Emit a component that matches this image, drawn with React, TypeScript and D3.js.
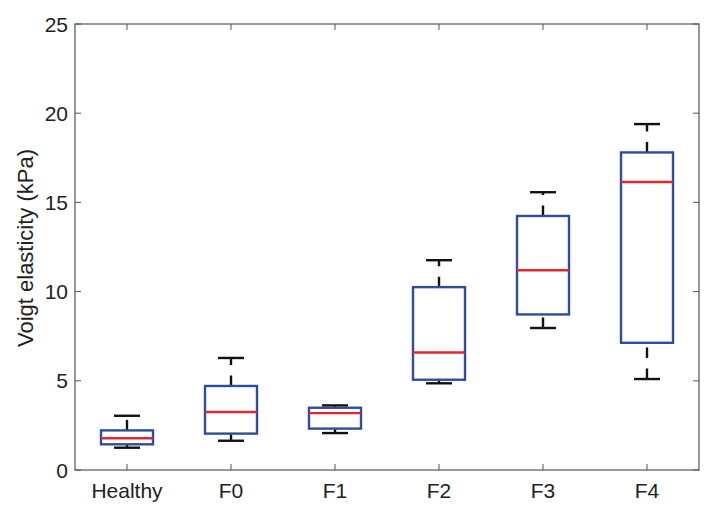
import React from "react";
import * as d3 from "d3";

const categories = ["Healthy", "F0", "F1", "F2", "F3", "F4"];
const lowerWhisker = [1.25, 1.64, 2.07, 4.86, 7.96, 5.1];
const q1 = [1.44, 2.04, 2.32, 5.06, 8.72, 7.13];
const medians = [1.78, 3.25, 3.19, 6.59, 11.2, 16.14];
const q3 = [2.22, 4.71, 3.49, 10.25, 14.24, 17.8];
const upperWhisker = [3.04, 6.28, 3.62, 11.76, 15.57, 19.39];
const yTicks = [0, 5, 10, 15, 20, 25];
const yLabel = "Voigt elasticity (kPa)";

const W = 717;
const H = 518;
const left = 75;
const right = 699;
const top = 24;
const bottom = 470;

export default function App() {
  const x = d3.scaleBand<string>().domain(categories).range([left, right]).paddingInner(0).paddingOuter(0);
  const y = d3.scaleLinear().domain([0, 25]).range([bottom, top]);
  const bw = x.bandwidth();
  const boxW = bw * 0.5;
  const capW = bw * 0.25;
  const font = "'Liberation Sans', Arial, Helvetica, sans-serif";
  const axisColor = "#555";
  const blue = "#2f4d9c";
  const red = "#e3262c";
  const tickLen = 6;
  const dash = "10.5,10.5";
  const sw = 2.4;

  return (
    <svg width={W} height={H} style={{ position: "absolute", left: 0, top: 0, background: "#fff" }}>
      <rect x={0} y={0} width={W} height={H} fill="#fff" />
      <rect x={left} y={top} width={right - left} height={bottom - top} fill="none" stroke={axisColor} strokeWidth={1.2} />
      {yTicks.map((t) => (
        <g key={"y" + t}>
          <line x1={left} x2={left + tickLen} y1={y(t)} y2={y(t)} stroke={axisColor} strokeWidth={1} />
          <line x1={right} x2={right - tickLen} y1={y(t)} y2={y(t)} stroke={axisColor} strokeWidth={1} />
          <text x={left - 7} y={y(t)} dy="0.36em" textAnchor="end" fontFamily={font} fontSize={21} fill="#222">
            {t}
          </text>
        </g>
      ))}
      {categories.map((c) => {
        const cx = (x(c) as number) + bw / 2;
        return (
          <g key={"x" + c}>
            <line x1={cx} x2={cx} y1={bottom} y2={bottom - tickLen} stroke={axisColor} strokeWidth={1} />
            <line x1={cx} x2={cx} y1={top} y2={top + tickLen} stroke={axisColor} strokeWidth={1} />
            <text x={cx} y={497.5} textAnchor="middle" fontFamily={font} fontSize={21} fill="#222">
              {c}
            </text>
          </g>
        );
      })}
      {categories.map((c, i) => {
        const cx = (x(c) as number) + bw / 2;
        return (
          <g key={"b" + c}>
            <line x1={cx} x2={cx} y1={y(q3[i])} y2={y(upperWhisker[i])} stroke="#111" strokeWidth={sw} strokeDasharray={dash} />
            <line x1={cx} x2={cx} y1={y(lowerWhisker[i])} y2={y(q1[i])} stroke="#111" strokeWidth={sw} strokeDasharray={dash} />
            <line x1={cx - capW / 2} x2={cx + capW / 2} y1={y(upperWhisker[i])} y2={y(upperWhisker[i])} stroke="#111" strokeWidth={sw} />
            <line x1={cx - capW / 2} x2={cx + capW / 2} y1={y(lowerWhisker[i])} y2={y(lowerWhisker[i])} stroke="#111" strokeWidth={sw} />
            <rect x={cx - boxW / 2} y={y(q3[i])} width={boxW} height={y(q1[i]) - y(q3[i])} fill="none" stroke={blue} strokeWidth={sw} />
            <line x1={cx - boxW / 2} x2={cx + boxW / 2} y1={y(medians[i])} y2={y(medians[i])} stroke={red} strokeWidth={sw} />
          </g>
        );
      })}
      <text
        transform={`translate(33,248) rotate(-90)`}
        textAnchor="middle"
        fontFamily={font}
        fontSize={22}
        fill="#222"
      >
        {yLabel}
      </text>
    </svg>
  );
}
